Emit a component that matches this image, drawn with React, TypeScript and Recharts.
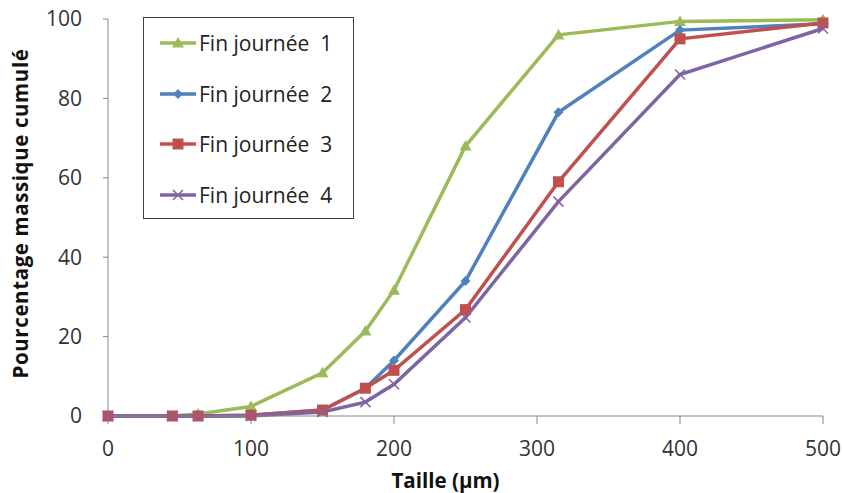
import React from 'react';
import { LineChart, Line, XAxis, YAxis } from 'recharts';

const sizes = [0, 45, 63, 100, 150, 180, 200, 250, 315, 400, 500];
const finJournee1 = [0, 0, 0.5, 2.4, 10.9, 21.4, 31.7, 68, 96, 99.4, 99.8];
const finJournee2 = [0, 0, 0, 0.2, 1.5, 7, 14, 34, 76.5, 97.2, 98.8];
const finJournee3 = [0, 0, 0, 0.2, 1.5, 7, 11.5, 26.8, 59, 95, 99];
const finJournee4 = [0, 0, 0, 0, 1, 3.5, 8, 24.8, 54, 86, 97.6];
const xTicks = [0, 100, 200, 300, 400, 500];
const yTicks = [0, 20, 40, 60, 80, 100];

const seriesNames = ['Fin journée 1', 'Fin journée 2', 'Fin journée 3', 'Fin journée 4'];
const seriesColors = ['#9BBB59', '#4F81BD', '#C0504D', '#8064A2'];

const data = sizes.map((s, i) => ({
  x: s,
  j1: finJournee1[i],
  j2: finJournee2[i],
  j3: finJournee3[i],
  j4: finJournee4[i],
}));

const FONT = '"Open Sans", sans-serif';

function Marker({ kind, cx, cy, color }: { kind: number; cx: number; cy: number; color: string }) {
  if (kind === 0) {
    const s = 6;
    return <path d={`M${cx},${cy - s} L${cx + s},${cy + s * 0.75} L${cx - s},${cy + s * 0.75} Z`} fill={color} />;
  }
  if (kind === 1) {
    const s = 5;
    return <path d={`M${cx},${cy - s} L${cx + s},${cy} L${cx},${cy + s} L${cx - s},${cy} Z`} fill={color} />;
  }
  if (kind === 2) {
    const s = 5.5;
    return <rect x={cx - s} y={cy - s} width={2 * s} height={2 * s} fill={color} />;
  }
  const s = 5;
  return (
    <path
      d={`M${cx - s},${cy - s} L${cx + s},${cy + s} M${cx - s},${cy + s} L${cx + s},${cy - s}`}
      stroke={color}
      strokeWidth={1.5}
      fill="none"
    />
  );
}

const makeDot = (kind: number) => (props: any) => {
  const { cx, cy, index } = props;
  return <Marker key={`d-${kind}-${index}`} kind={kind} cx={cx} cy={cy} color={seriesColors[kind]} />;
};

const LegendBox = () => (
  <div
    style={{
      position: 'absolute',
      left: 143,
      top: 17,
      width: 211,
      height: 202,
      border: '1px solid #404040',
      background: '#fff',
      boxSizing: 'border-box',
      paddingTop: 0,
    }}
  >
    {seriesNames.map((name, i) => (
      <div key={name} style={{ display: 'flex', alignItems: 'center', height: 50.5 }}>
        <svg width={55} height={20} style={{ flex: 'none' }}>
          <line x1={16} y1={10} x2={52} y2={10} stroke={seriesColors[i]} strokeWidth={3.5} />
          <Marker kind={i} cx={34} cy={10} color={seriesColors[i]} />
        </svg>
        <span style={{ fontFamily: FONT, fontSize: 21, color: '#222', whiteSpace: 'pre' }}>{name.replace(/ (\d)$/, '  $1')}</span>
      </div>
    ))}
  </div>
);

export default function App() {
  return (
    <div style={{ position: 'absolute', left: 0, top: 0, width: 843, height: 493, background: '#fff' }}>
      <LineChart width={843} height={493} data={data} margin={{ top: 19, right: 20, bottom: 0, left: 0 }}>
        <XAxis
          dataKey="x"
          type="number"
          domain={[0, 500]}
          ticks={xTicks}
          stroke="#878787"
          tickSize={8}
          tickMargin={17}
          height={77}
          tick={{ fill: '#333', fontSize: 21, fontFamily: FONT }}
          label={{
            value: 'Taille (µm)',
            position: 'insideBottom',
            offset: 5,
            dx: -20,
            style: { fill: '#111', fontSize: 20.5, fontWeight: 700, fontFamily: FONT },
          }}
        />
        <YAxis
          type="number"
          domain={[0, 100]}
          ticks={yTicks}
          stroke="#878787"
          tickSize={5}
          tickMargin={21}
          width={108}
          tick={{ fill: '#333', fontSize: 21, fontFamily: FONT }}
          label={{
            value: 'Pourcentage massique  cumulé',
            angle: -90,
            position: 'insideLeft',
            offset: 0,
            dx: 21,
            dy: -4,
            style: { fill: '#111', fontSize: 20.5, fontWeight: 700, fontFamily: FONT, textAnchor: 'middle', whiteSpace: 'pre', letterSpacing: 0.6 },
          }}
        />
        <Line dataKey="j1" name={seriesNames[0]} stroke={seriesColors[0]} strokeWidth={3.5} dot={makeDot(0)} isAnimationActive={false} />
        <Line dataKey="j2" name={seriesNames[1]} stroke={seriesColors[1]} strokeWidth={3.5} dot={makeDot(1)} isAnimationActive={false} />
        <Line dataKey="j3" name={seriesNames[2]} stroke={seriesColors[2]} strokeWidth={3.5} dot={makeDot(2)} isAnimationActive={false} />
        <Line dataKey="j4" name={seriesNames[3]} stroke={seriesColors[3]} strokeWidth={3.5} dot={makeDot(3)} isAnimationActive={false} />
      </LineChart>
      <LegendBox />
    </div>
  );
}
